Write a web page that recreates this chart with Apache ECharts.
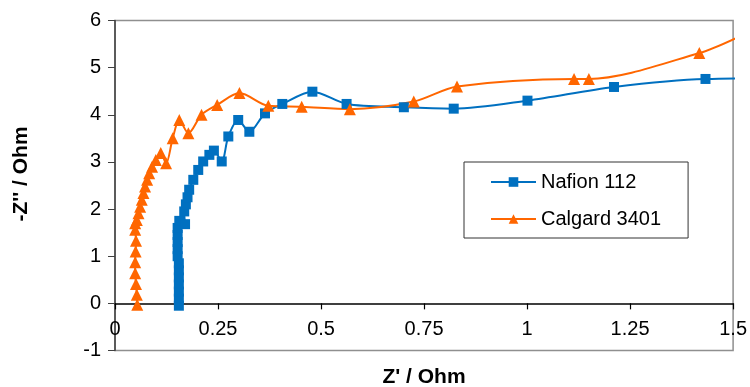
<!DOCTYPE html>
<html><head><meta charset="utf-8">
<script src="https://cdn.jsdelivr.net/npm/echarts@6/dist/echarts.min.js"></script>
<style>html,body{margin:0;padding:0;background:#fff}#c{width:750px;height:387px}</style>
</head><body><div id="c"></div>
<script>
// Nafion 112 : Z' (Ohm) and -Z'' (Ohm)
const nafionX = [0.155,0.155,0.155,0.155,0.155,0.155,0.155,0.152,0.152,0.152,0.152,0.152,0.156,0.170,0.168,0.172,0.176,0.180,0.190,0.202,0.214,0.229,0.240,0.259,0.275,0.299,0.326,0.364,0.406,0.479,0.562,0.701,0.822,1.001,1.211,1.433,1.700];
const nafionY = [-0.05,0.10,0.25,0.40,0.55,0.70,0.85,1.00,1.15,1.30,1.45,1.60,1.75,1.68,1.95,2.10,2.25,2.41,2.62,2.83,3.01,3.15,3.24,3.01,3.54,3.89,3.64,4.03,4.23,4.49,4.23,4.16,4.13,4.30,4.59,4.76,4.78];
// Calgard 3401
const calgardX = [0.054,0.053,0.051,0.049,0.049,0.050,0.051,0.049,0.049,0.053,0.057,0.061,0.065,0.069,0.073,0.078,0.083,0.090,0.099,0.111,0.124,0.140,0.156,0.178,0.210,0.248,0.302,0.372,0.453,0.570,0.725,0.830,1.114,1.150,1.418,1.520];
const calgardY = [-0.03,0.18,0.41,0.64,0.87,1.10,1.33,1.56,1.70,1.77,1.91,2.05,2.20,2.34,2.48,2.62,2.76,2.90,3.04,3.19,2.97,3.50,3.89,3.61,4.00,4.21,4.46,4.19,4.17,4.12,4.28,4.60,4.76,4.76,5.31,5.68];
const seriesNames = ['Nafion 112', 'Calgard 3401'];
const xTitle = "Z' / Ohm";
const yTitle = "-Z'' / Ohm";

const zip = (a, b) => a.map((v, i) => [v, b[i]]);
const FONT = 'Arial, Liberation Sans, sans-serif';
const chart = echarts.init(document.getElementById('c'), null, {renderer: 'canvas'});
// the x axis line sits at -Z'' = 0, i.e. one unit (of 7) above the plot bottom
const plotH = 387 - 20.5 - 36.5;
chart.setOption({
  animation: false,
  backgroundColor: '#fff',
  grid: {left: 115, right: 16.7, top: 20.5, bottom: 36.5, show: true, borderColor: '#8f8f8f', borderWidth: 1.5, backgroundColor: 'transparent'},
  xAxis: {
    type: 'value', min: 0, max: 1.5, interval: 0.25, position: 'bottom', offset: -plotH / 7,
    axisLine: {show: true, onZero: false, lineStyle: {color: '#000', width: 1.5}},
    axisTick: {show: true, length: 6, lineStyle: {color: '#000', width: 1.2}},
    axisLabel: {fontSize: 20, color: '#000', margin: 16, fontFamily: FONT},
    splitLine: {show: false}
  },
  yAxis: {
    type: 'value', min: -1, max: 6, interval: 1,
    axisLine: {show: true, onZero: false, lineStyle: {color: '#404040', width: 1.5}},
    axisTick: {show: true, length: 7, lineStyle: {color: '#404040'}},
    axisLabel: {fontSize: 20, color: '#000', margin: 14, fontFamily: FONT},
    splitLine: {show: false}
  },
  legend: {
    orient: 'vertical', left: 464, top: 162,
    padding: [10, 27, 9, 26], itemGap: 17, itemWidth: 45, itemHeight: 12,
    backgroundColor: '#fff', borderColor: '#333', borderWidth: 1,
    textStyle: {fontSize: 20, color: '#000', fontFamily: FONT},
    data: seriesNames
  },
  graphic: [
    {type: 'text', x: 21, y: 174, rotation: Math.PI / 2,
     style: {text: yTitle, fontSize: 21, fontWeight: 'bold', fontFamily: FONT, fill: '#000', align: 'center', verticalAlign: 'middle'}},
    {type: 'text', x: 424, y: 377,
     style: {text: xTitle, fontSize: 21, fontWeight: 'bold', fontFamily: FONT, fill: '#000', align: 'center', verticalAlign: 'middle'}}
  ],
  series: [
    {name: seriesNames[0], type: 'line', data: zip(nafionX, nafionY), smooth: 0.3, clip: true,
     symbol: 'rect', symbolSize: 10, color: '#0070C0', lineStyle: {width: 2, color: '#0070C0'}, itemStyle: {color: '#0070C0'}},
    {name: seriesNames[1], type: 'line', data: zip(calgardX, calgardY), smooth: 0.3, clip: true,
     symbol: 'triangle', symbolSize: 12, color: '#FF6600', lineStyle: {width: 2, color: '#FF6600'}, itemStyle: {color: '#FF6600'}}
  ]
});
</script></body></html>
